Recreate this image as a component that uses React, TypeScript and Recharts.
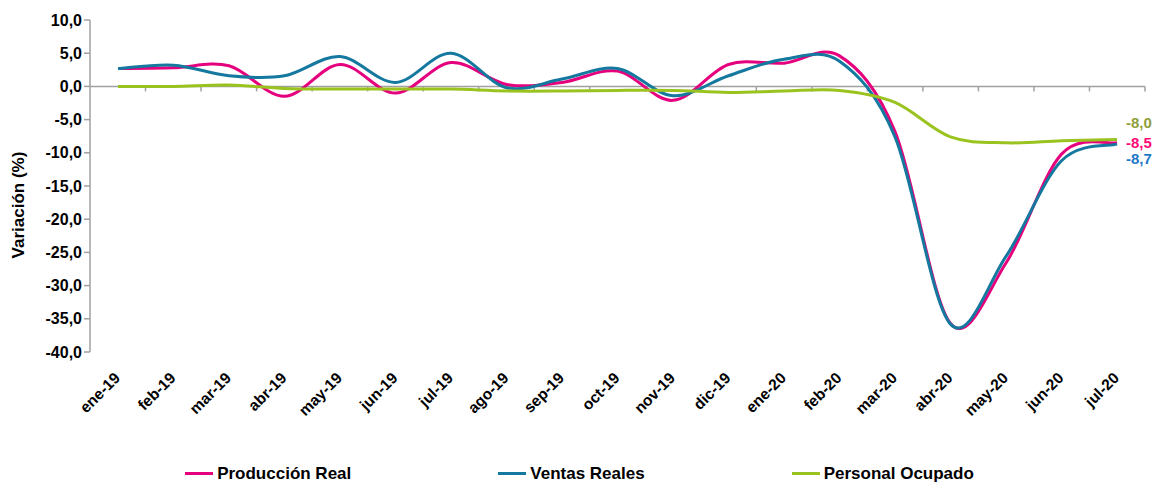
import React from 'react';
import { LineChart, Line, XAxis, YAxis, ReferenceLine, Legend, LabelList } from 'recharts';

const months = [
  'ene-19', 'feb-19', 'mar-19', 'abr-19', 'may-19', 'jun-19', 'jul-19', 'ago-19', 'sep-19', 'oct-19',
  'nov-19', 'dic-19', 'ene-20', 'feb-20', 'mar-20', 'abr-20', 'may-20', 'jun-20', 'jul-20',
];
const produccionReal = [2.7, 2.8, 3.1, -1.5, 3.3, -1.0, 3.6, 0.3, 0.6, 2.3, -2.1, 3.3, 3.5, 4.6, -6.8, -35.7, -26.6, -10.2, -8.5];
const ventasReales = [2.7, 3.2, 1.6, 1.6, 4.5, 0.6, 5.0, -0.2, 1.1, 2.7, -1.4, 1.6, 4.1, 3.8, -7.6, -35.8, -25.6, -11.2, -8.7];
const personalOcupado = [0.0, 0.0, 0.2, -0.3, -0.4, -0.4, -0.4, -0.7, -0.7, -0.6, -0.6, -0.9, -0.7, -0.6, -2.4, -7.6, -8.5, -8.2, -8.0];
const yTicks = [10, 5, 0, -5, -10, -15, -20, -25, -30, -35, -40];

const data = months.map((month, i) => ({
  month,
  produccion: produccionReal[i],
  ventas: ventasReales[i],
  personal: personalOcupado[i],
}));

const FONT = '"Liberation Sans", Arial, sans-serif';
const fmt = (v: number) => v.toFixed(1).replace('.', ',');

// smoothed line like Excel's (catmull-rom style bezier)
const excelCurve = (context: any) => {
  let pts: [number, number][] = [];
  return {
    areaStart() {},
    areaEnd() {},
    lineStart() { pts = []; },
    point(x: number, y: number) { pts.push([+x, +y]); },
    lineEnd() {
      if (!pts.length) return;
      context.moveTo(pts[0][0], pts[0][1]);
      for (let i = 0; i < pts.length - 1; i++) {
        const p0 = pts[Math.max(i - 1, 0)];
        const p1 = pts[i];
        const p2 = pts[i + 1];
        const p3 = pts[Math.min(i + 2, pts.length - 1)];
        context.bezierCurveTo(
          p1[0] + (p2[0] - p0[0]) / 6, p1[1] + (p2[1] - p0[1]) / 6,
          p2[0] - (p3[0] - p1[0]) / 6, p2[1] - (p3[1] - p1[1]) / 6,
          p2[0], p2[1],
        );
      }
    },
  };
};

const series = [
  { key: 'produccion', name: 'Producción Real', color: '#e5007d', labelColor: '#ff0a78', dy: 1 },
  { key: 'ventas', name: 'Ventas Reales', color: '#14789f', labelColor: '#1e78c8', dy: 16 },
  { key: 'personal', name: 'Personal Ocupado', color: '#9bc31f', labelColor: '#8f9f3a', dy: -15 },
];

const MonthTick = (props: any) => {
  const { x, y, payload } = props;
  const ax = x + 3;
  const ay = y + 19;
  return (
    <text
      x={ax}
      y={ay}
      transform={`rotate(-45, ${ax}, ${ay})`}
      textAnchor="end"
      fontFamily={FONT}
      fontWeight="bold"
      fontSize={15.5}
      fill="#000"
    >
      {payload.value}
    </text>
  );
};

const ZeroLine = (props: any) => {
  const { x1, x2, y1 } = props;
  const step = (x2 - x1) / months.length;
  return (
    <g>
      <line x1={x1} x2={x2} y1={y1} y2={y1} stroke="#a0a0a0" strokeWidth={1.5} />
      {months.map((m, k) => (
        <line key={m} x1={x1 + step * (k + 1)} x2={x1 + step * (k + 1)} y1={y1} y2={y1 + 5} stroke="#a0a0a0" strokeWidth={1.5} />
      ))}
    </g>
  );
};

const endLabel = (color: string, dy: number) => (props: any) => {
  const { x, y, value, index } = props;
  if (index !== months.length - 1) return null;
  return (
    <text x={x + 9} y={y + dy} dominantBaseline="middle" fontFamily={FONT} fontWeight="bold" fontSize={15} fill={color}>
      {fmt(value)}
    </text>
  );
};

const LegendContent = () => (
  <div
    style={{
      display: 'flex',
      justifyContent: 'center',
      gap: 147,
      height: 30,
      paddingTop: 13,
      boxSizing: 'border-box',
      fontFamily: FONT,
      fontWeight: 'bold',
      fontSize: 17,
      lineHeight: '20px',
      color: '#000',
    }}
  >
    {series.map((s) => (
      <div key={s.key} style={{ display: 'flex', alignItems: 'center' }}>
        <span style={{ display: 'inline-block', width: 28, height: 3, background: s.color, marginRight: 4 }} />
        <span>{s.name}</span>
      </div>
    ))}
  </div>
);

export default function App() {
  return (
    <div style={{ position: 'absolute', left: 0, top: 0, width: 1159, height: 482, background: '#fff', overflow: 'hidden' }}>
      <LineChart width={1159} height={482} data={data} margin={{ top: 20, right: 14, bottom: 0, left: 0 }}>
        <XAxis
          dataKey="month"
          interval={0}
          axisLine={false}
          tickLine={false}
          padding={{ left: 28, right: 28 }}
          height={100}
          tick={<MonthTick />}
        />
        <YAxis
          domain={[-40, 10]}
          ticks={yTicks}
          interval={0}
          width={90}
          tickFormatter={fmt}
          axisLine={{ stroke: '#a0a0a0', strokeWidth: 1.5 }}
          tickLine={{ stroke: '#a0a0a0', strokeWidth: 1.5 }}
          tickSize={6}
          tickMargin={2}
          tick={{ fontFamily: FONT, fontWeight: 'bold', fontSize: 16, fill: '#000' }}
          label={{
            content: () => (
              <text
                x={24}
                y={205}
                transform="rotate(-90, 24, 205)"
                textAnchor="middle"
                fontFamily={FONT}
                fontWeight="bold"
                fontSize={17}
                fill="#000"
              >
                Variación (%)
              </text>
            ),
          }}
        />
        <ReferenceLine y={0} shape={<ZeroLine />} />
        {series.map((s) => (
          <Line
            key={s.key}
            dataKey={s.key}
            name={s.name}
            type={excelCurve as any}
            stroke={s.color}
            strokeWidth={3}
            dot={false}
            activeDot={false}
            isAnimationActive={false}
          >
            <LabelList dataKey={s.key} content={endLabel(s.labelColor, s.dy)} />
          </Line>
        ))}
        <Legend verticalAlign="bottom" content={<LegendContent />} wrapperStyle={{ left: 0, width: 1159, bottom: 0 }} />
      </LineChart>
    </div>
  );
}
